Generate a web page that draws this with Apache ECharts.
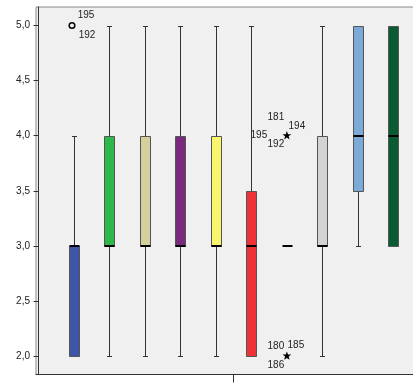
<!DOCTYPE html>
<html>
<head>
<meta charset="utf-8">
<script src="https://cdn.jsdelivr.net/npm/echarts@6/dist/echarts.min.js"></script>
<style>
html,body{margin:0;padding:0;background:#fff;}
#chart{width:413px;height:385px;}
</style>
</head>
<body>
<div id="chart"></div>
<script>
// ---- data ----
const groups = ['1','2','3','4','5','6','7','8','9','10'];
const boxColors = ['#3F56A8','#2DB84B','#D4CF9B','#7A2A7D','#FAF56E','#EE3238','#D0D0D0','#D3D3D3','#7BAAD9','#0A5A32'];
const mins    = [2, 2, 2, 2, 2, 2,   3, 2, 3,   3];
const q1s     = [2, 3, 3, 3, 3, 2,   3, 3, 3.5, 3];
const medians = [3, 3, 3, 3, 3, 3,   3, 3, 4,   4];
const q3s     = [3, 4, 4, 4, 4, 3.5, 3, 4, 5,   5];
const maxs    = [4, 5, 5, 5, 5, 5,   3, 5, 5,   5];
const yTicks  = [2, 2.5, 3, 3.5, 4, 4.5, 5];
// outliers: group index (1-based), value, case ids, marker
const outlierGroup = [1, 7, 7];
const outlierValue = [5, 4, 2];
const outlierIds   = [['195','192'], ['181','194','195','192'], ['180','185','186']];
const outlierMark  = ['circle', 'star', 'star'];

// ---- layout/style constants ----
const labelOffsets = [
  [[12,-10],[13,10]],
  [[-11,-18],[10,-9],[-28,0],[-11,9]],
  [[-11,-10],[9,-11],[-11,9]]
];
const FONT = '"Liberation Sans", Arial, sans-serif';
const BOX_W = 10, CAP_W = 5;

const boxData = groups.map((g,i)=>[i+1, mins[i], q1s[i], medians[i], q3s[i], maxs[i]]);
const outData = outlierGroup.map((g,i)=>[g, outlierValue[i], i]);

function px(v){ return Math.round(v) + 0.5; }

const chart = echarts.init(document.getElementById('chart'), null, {renderer:'canvas'});
chart.setOption({
  animation: false,
  backgroundColor: '#ffffff',
  grid: {
    left: 36, top: 7, right: -17, bottom: 10.5,
    outerBoundsMode: 'none', containLabel: false,
    show: true, backgroundColor: '#F0F0F0', borderColor: '#8a8a8a', borderWidth: 1
  },
  xAxis: [
    { type: 'value', min: -0.071, max: 11.034, show: false },
    { type: 'category', data: [''], position: 'bottom',
      axisLine: {show: true, lineStyle: {color: '#333', width: 1}},
      axisTick: {show: true, alignWithLabel: true, length: 8, lineStyle: {color: '#333'}},
      axisLabel: {show: false}, splitLine: {show: false} }
  ],
  yAxis: {
    type: 'value', min: 1.832, max: 5.168,
    axisLine: {show: true, lineStyle: {color: '#333', width: 1}},
    axisTick: {show: true, length: 5, customValues: yTicks, lineStyle: {color: '#333'}},
    axisLabel: {
      customValues: yTicks, margin: 6, fontSize: 10, color: '#222', fontFamily: FONT,
      formatter: v => v.toFixed(1).replace('.', ',')
    },
    splitLine: {show: false}
  },
  series: [
    {
      type: 'custom', xAxisIndex: 0, yAxisIndex: 0, data: boxData,
      renderItem: function(params, api){
        const i = params.dataIndex;
        const x = api.value(0);
        const cx = api.coord([x, 0])[0];
        const yMin = api.coord([x, api.value(1)])[1];
        const yQ1 = api.coord([x, api.value(2)])[1];
        const yMed = api.coord([x, api.value(3)])[1];
        const yQ3 = api.coord([x, api.value(4)])[1];
        const yMax = api.coord([x, api.value(5)])[1];
        const c = px(cx);
        const children = [];
        const wc = '#333';
        if (api.value(5) > api.value(1)) {
          children.push({type:'line', shape:{x1:c, y1:px(yMax), x2:c, y2:px(yMin)}, style:{stroke:wc, lineWidth:1}});
        }
        if (api.value(5) > api.value(4)) {
          children.push({type:'line', shape:{x1:c-CAP_W/2, y1:px(yMax), x2:c+CAP_W/2, y2:px(yMax)}, style:{stroke:wc, lineWidth:1}});
        }
        if (api.value(1) < api.value(2)) {
          children.push({type:'line', shape:{x1:c-CAP_W/2, y1:px(yMin), x2:c+CAP_W/2, y2:px(yMin)}, style:{stroke:wc, lineWidth:1}});
        }
        if (api.value(4) > api.value(2)) {
          const top = px(yQ3), bot = px(yQ1);
          children.push({type:'rect', shape:{x: c - BOX_W/2, y: top, width: BOX_W, height: bot-top},
            style:{fill: boxColors[i], stroke:'#555', lineWidth:1}});
        }
        children.push({type:'line', shape:{x1:c-BOX_W/2, y1:Math.round(yMed), x2:c+BOX_W/2, y2:Math.round(yMed)},
          style:{stroke:'#000', lineWidth:2}});
        return {type:'group', children: children};
      },
      z: 2
    },
    {
      type: 'custom', xAxisIndex: 0, yAxisIndex: 0, data: outData,
      renderItem: function(params, api){
        const k = api.value(2);
        const p = api.coord([api.value(0), api.value(1)]);
        const children = [];
        if (outlierMark[k] === 'circle') {
          children.push({type:'circle', shape:{cx:p[0]-2, cy:p[1], r:2.8}, style:{fill:'none', stroke:'#000', lineWidth:1.5}});
        } else {
          const pts = [];
          for (let j=0;j<10;j++){
            const r = j%2===0 ? 4.6 : 1.9;
            const a = -Math.PI/2 + j*Math.PI/5;
            pts.push([p[0] + r*Math.cos(a), p[1] + r*Math.sin(a)]);
          }
          children.push({type:'polygon', shape:{points:pts}, style:{fill:'#000'}});
        }
        outlierIds[k].forEach((id, j)=>{
          const o = labelOffsets[k][j];
          children.push({type:'text', x: p[0]+o[0], y: p[1]+o[1],
            style:{text:id, fill:'#222', font:'10px ' + FONT, align:'center', verticalAlign:'middle'}});
        });
        return {type:'group', children: children};
      },
      z: 3
    }
  ]
});
</script>
</body>
</html>
